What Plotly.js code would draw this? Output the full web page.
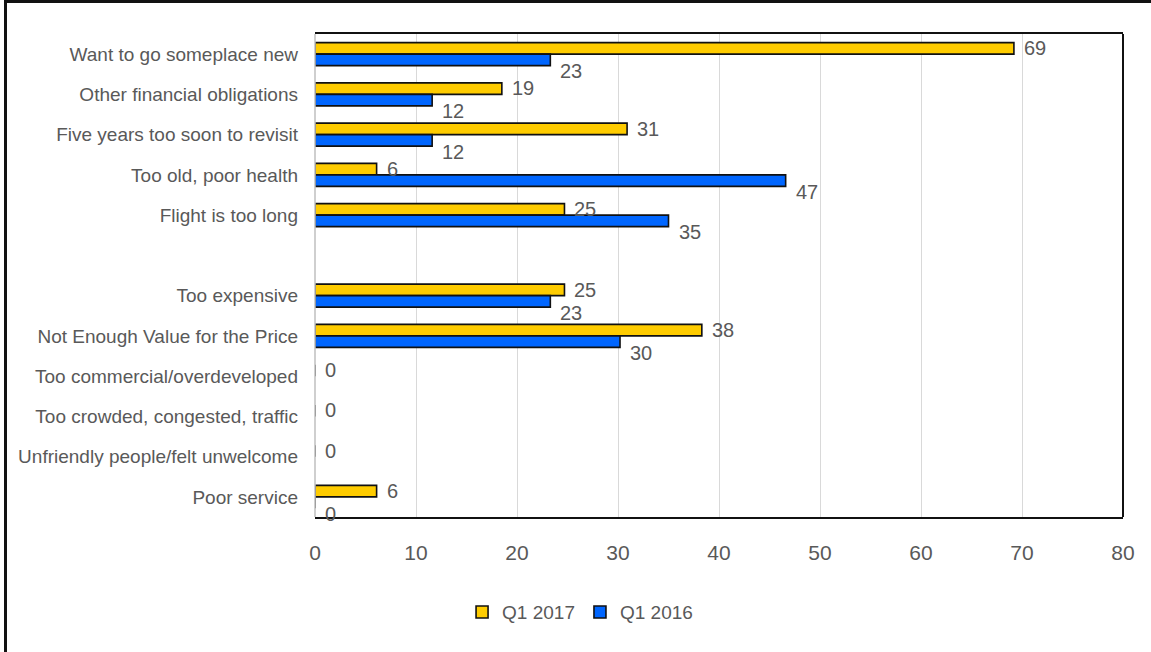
<!DOCTYPE html>
<html>
<head>
<meta charset="utf-8">
<script src="https://cdn.plot.ly/plotly-3.0.1.min.js"></script>
<style>
  html, body { margin: 0; padding: 0; background: #fff; }
  #frame { position: absolute; left: 4px; top: 0; width: 1147px; height: 652px;
           border-left: 3px solid #111; border-top: 3px solid #111; box-sizing: border-box; }
  #chart { position: absolute; left: 0; top: 0; width: 1151px; height: 652px; }
</style>
</head>
<body>
<div id="chart"></div>
<div id="frame"></div>
<script>
const categories = [
  "Want to go someplace new",
  "Other financial obligations",
  "Five years too soon to revisit",
  "Too old, poor health",
  "Flight is too long",
  " ",
  "Too expensive",
  "Not Enough Value for the Price",
  "Too commercial/overdeveloped",
  "Too crowded, congested, traffic",
  "Unfriendly people/felt unwelcome",
  "Poor service"
];
const seriesNames = ["Q1 2017", "Q1 2016"];
const q1_2017 = [69.2, 18.5, 30.9, 6.1, 24.7, null, 24.7, 38.3, 0, 0, 0, 6.1];
const q1_2016 = [23.3, 11.6, 11.6, 46.6, 35.0, null, 23.3, 30.2, null, null, null, 0];
const xTicks = [0, 10, 20, 30, 40, 50, 60, 70, 80];

const FONT = '"Liberation Sans", Arial, sans-serif';
const GREY = '#595959';
const LABEL_SIZE = 20;

function barTrace(name, values, color) {
  return { type: 'bar', orientation: 'h', name: name, y: categories, x: values,
           hoverinfo: 'none',
           marker: { color: color, line: { color: '#111', width: 1.6 } } };
}
const traces = [
  barTrace(seriesNames[0], q1_2017, '#FFCC00'),
  barTrace(seriesNames[1], q1_2016, '#0066FF')
];

// value labels at the end of each bar (yellow slightly above, blue below)
function labels(values, yshift) {
  const out = [];
  values.forEach((v, i) => {
    if (v === null) return;
    out.push({ x: v, y: categories[i], xref: 'x', yref: 'y', text: String(Math.round(v)),
               showarrow: false, xanchor: 'left', yanchor: 'middle', xshift: 9, yshift: yshift,
               borderpad: 0,
               font: { family: FONT, size: LABEL_SIZE, color: GREY } });
  });
  return out;
}
const annotations = labels(q1_2017, 6).concat(labels(q1_2016, -17));

const layout = {
  width: 1151, height: 652,
  margin: { l: 315, r: 28, t: 34, b: 135 },
  paper_bgcolor: '#fff', plot_bgcolor: '#fff',
  barmode: 'group', bargap: 0.43, bargroupgap: 0,
  font: { family: FONT, size: 19, color: GREY },
  showlegend: true,
  legend: { orientation: 'h', x: 0.182, xanchor: 'left', y: -0.197, yanchor: 'middle',
            font: { family: FONT, size: 19, color: GREY }, traceorder: 'normal',
            itemwidth: 30, tracegroupgap: 0 },
  xaxis: { range: [0, 80], tickvals: xTicks, ticktext: xTicks.map(String),
           showgrid: true, gridcolor: '#d9d9d9', gridwidth: 1,
           zeroline: false, showline: true, mirror: true, linecolor: '#111', linewidth: 2,
           ticks: '', ticklabelstandoff: 16, fixedrange: true,
           tickfont: { family: FONT, size: 21, color: GREY } },
  yaxis: { type: 'category', categoryorder: 'array', categoryarray: categories,
           range: [categories.length - 0.5, -0.5], autorange: false,
           showgrid: false, zeroline: false, showline: false,
           ticks: '', ticklabelstandoff: 16, fixedrange: true,
           tickfont: { family: FONT, size: 19, color: GREY } },
  annotations: annotations,
  shapes: [
    { type: 'line', xref: 'paper', yref: 'paper', x0: 1, x1: 1, y0: 0, y1: 1,
      line: { color: '#111', width: 2 } },
    { type: 'line', xref: 'paper', yref: 'paper', x0: 0, x1: 0, y0: 0, y1: 1,
      line: { color: '#bfbfbf', width: 1.5 } }
  ]
};

Plotly.newPlot('chart', traces, layout, { displayModeBar: false, staticPlot: true });
</script>
</body>
</html>
